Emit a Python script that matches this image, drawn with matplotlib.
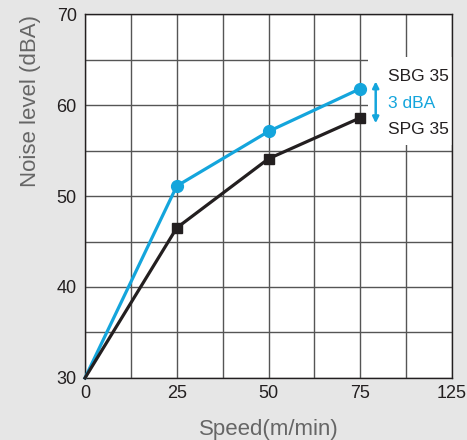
import matplotlib
matplotlib.use("Agg")
import matplotlib.pyplot as plt
from matplotlib.patches import Rectangle
import numpy as np

speed = [0, 25, 50, 75]
sbg35 = [30, 51.1, 57.1, 61.8]
spg35 = [30, 46.5, 54.1, 58.6]
x_ticks = [0, 25, 50, 75, 100]
x_tick_labels = ["0", "25", "50", "75", "125"]
y_ticks = [30, 40, 50, 60, 70]

cyan = "#14a5dc"
dark = "#231f20"
bg = "#e6e6e6"

plt.rcParams['font.family'] = ['Liberation Sans', 'DejaVu Sans']

fig = plt.figure(figsize=(4.67, 4.40), dpi=100, facecolor=bg)
ax = fig.add_axes([0.182, 0.141, 0.786, 0.827])
ax.set_facecolor("white")

ax.set_xlim(0, 100)
ax.set_ylim(30, 70)
ax.set_xticks(np.arange(0, 100.1, 12.5), minor=True)
ax.set_yticks(np.arange(30, 70.1, 5), minor=True)
ax.set_xticks(x_ticks)
ax.set_xticklabels(x_tick_labels)
ax.set_yticks(y_ticks)
ax.grid(True, which="both", color="#555555", linewidth=1.0)
ax.tick_params(which="both", length=0, labelsize=13, colors="#231f20")
ax.tick_params(axis="x", pad=5)
ax.tick_params(axis="y", pad=6)
for s in ax.spines.values():
    s.set_color("#231f20")
    s.set_linewidth(1.0)

# white box behind the annotation block
ax.add_patch(Rectangle((77.1, 55.6), 22.9, 9.7, facecolor="white",
                       edgecolor="none", zorder=2.5))

ax.plot(speed, sbg35, color=cyan, lw=2.3, marker="o", markersize=8.5,
        markevery=[1, 2, 3], zorder=5, clip_on=False)
ax.plot(speed, spg35, color=dark, lw=2.3, marker="s", markersize=7,
        markevery=[1, 2, 3], zorder=5, clip_on=False)

ax.annotate("", xy=(79.2, 62.6), xytext=(79.2, 58.0),
            arrowprops=dict(arrowstyle="<|-|>", color=cyan, lw=1.8,
                            mutation_scale=9, shrinkA=0, shrinkB=0), zorder=6)
ax.text(82.6, 63.1, "SBG 35", color=dark, fontsize=12.5, va="center", ha="left", zorder=6)
ax.text(82.6, 60.2, "3 dBA", color=cyan, fontsize=12.5, va="center", ha="left", zorder=6)
ax.text(82.6, 57.3, "SPG 35", color=dark, fontsize=12.5, va="center", ha="left", zorder=6)

ax.set_xlabel("Speed(m/min)", fontsize=16, color="#666666")
ax.xaxis.set_label_coords(0.5, -0.113)
ax.set_ylabel("Noise level (dBA)", fontsize=16, color="#666666")
ax.yaxis.set_label_coords(-0.12, 0.761)

fig.savefig("out.png", dpi=100, facecolor=bg)
